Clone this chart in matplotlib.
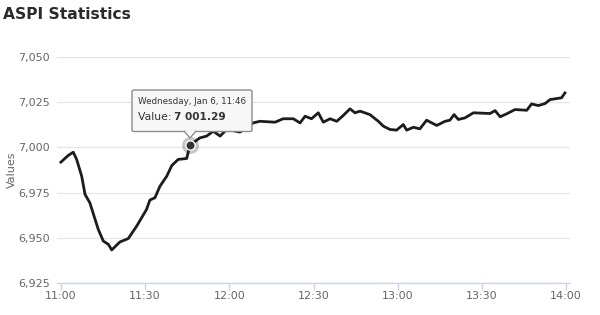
import matplotlib.pyplot as plt
from matplotlib.patches import FancyBboxPatch, Polygon

# minutes after 11:00 and ASPI value
minutes = [0, 2.6, 4.4, 5.6, 7.4, 8.6, 10.3, 13.3, 15.1, 16.9, 18.1, 21.0, 24.0, 27.0,
           30.5, 31.7, 33.5, 35.3, 37.7, 39.5, 41.8, 44.8, 46, 49.5, 51.9, 54.3, 56.7,
           59.1, 63.8, 68.5, 70.9, 76.3, 79.2, 82.8, 85.2, 87.0, 89.3, 91.7, 93.5, 95.9,
           98.3, 100.6, 103.0, 104.8, 106.6, 110.1, 113.1, 114.9, 117.2, 119.6, 122.0,
           123.2, 125.6, 127.9, 130.3, 133.9, 136.9, 138.6, 140.1, 141.6, 144.0, 147.0,
           152.9, 154.7, 156.5, 158.8, 161.8, 166.0, 167.7, 170.1, 172.5, 174.3, 178.4, 179.6]
values = [6991.9, 6995.6, 6997.4, 6993.4, 6984.1, 6974.0, 6969.4, 6954.7, 6948.2, 6946.4,
          6943.3, 6947.7, 6949.6, 6956.5, 6965.7, 6970.9, 6972.2, 6978.6, 6984.1, 6990.0,
          6993.4, 6993.9, 7001.29, 7005.3, 7006.3, 7009.0, 7006.3, 7010.0, 7008.5, 7013.6,
          7014.5, 7014.0, 7015.9, 7015.9, 7013.6, 7017.3, 7015.9, 7019.2, 7014.0, 7015.9,
          7014.5, 7017.7, 7021.4, 7019.2, 7020.1, 7018.2, 7014.5, 7011.8, 7010.0, 7009.6,
          7012.7, 7009.6, 7011.2, 7010.3, 7015.1, 7012.2, 7014.5, 7015.1, 7018.2, 7015.5,
          7016.4, 7019.2, 7018.8, 7020.4, 7017.0, 7018.6, 7021.0, 7020.6, 7024.1, 7023.2,
          7024.3, 7026.5, 7027.5, 7030.2]

x_ticks = [0, 30, 60, 90, 120, 150, 180]
x_labels = ["11:00", "11:30", "12:00", "12:30", "13:00", "13:30", "14:00"]
y_ticks = [6925, 6950, 6975, 7000, 7025, 7050]

hover_idx = 22
hover_text = "Wednesday, Jan 6, 11:46"

fig = plt.figure(figsize=(6, 3.15), dpi=100)
ax = fig.add_axes([0.095, 0.1016, 0.855, 0.717])

ax.plot(minutes, values, color="#1c1c1c", lw=2.0, solid_joinstyle="round", zorder=3)

ax.set_xlim(-1.4, 181.4)
ax.set_ylim(6925, 7050)
ax.set_yticks(y_ticks)
ax.set_yticklabels([f"{v:,}" for v in y_ticks])
ax.set_xticks(x_ticks)
ax.set_xticklabels(x_labels)

for s in ["top", "right", "left"]:
    ax.spines[s].set_visible(False)
ax.spines["bottom"].set_color("#ccd6eb")
ax.spines["bottom"].set_linewidth(1)
ax.grid(axis="y", color="#e6e6e6", lw=1)
ax.set_axisbelow(True)
ax.tick_params(axis="y", length=0, pad=5, labelsize=8, labelcolor="#666666")
ax.tick_params(axis="x", length=5, width=1, color="#ccd6eb", pad=1,
               labelsize=8, labelcolor="#666666")
ax.set_ylabel("Values", fontsize=8, color="#666666", labelpad=1)

fig.text(0.005, 0.955, "ASPI Statistics", fontsize=11.2, fontweight="bold",
         color="#2b2b2b", family="DejaVu Sans", va="center", ha="left")

# hover marker
hx, hy = minutes[hover_idx], values[hover_idx]
ax.scatter([hx], [hy], s=150, color="#1c1c1c", alpha=0.25, zorder=4, lw=0)
ax.scatter([hx], [hy], s=45, color="#333333", edgecolor="white", lw=1, zorder=5)

# tooltip in pixel coordinates
fw, fh = 600, 315
def fx(px):
    return px / fw
def fy(py):
    return 1 - py / fh

bx0, by0, bx1, by1 = 132, 90, 252, 131.5
box = FancyBboxPatch((fx(bx0), fy(by1)), fx(bx1 - bx0), (by1 - by0) / fh,
                     boxstyle="round,pad=0,rounding_size=0.004",
                     transform=fig.transFigure, facecolor="#f7f7f7",
                     edgecolor="#8c8c8c", lw=1, zorder=10)
fig.add_artist(box)
arrow = Polygon([(fx(184), fy(131)), (fx(190), fy(138)), (fx(196), fy(131))],
                closed=False, transform=fig.transFigure, facecolor="#f7f7f7",
                edgecolor="#8c8c8c", lw=1, zorder=11)
fig.add_artist(arrow)
fig.add_artist(Polygon([(fx(185), fy(130.5)), (fx(195), fy(130.5)), (fx(190), fy(136.5))],
                       transform=fig.transFigure, facecolor="#f7f7f7", lw=0, zorder=12))
fig.text(fx(138), fy(101), hover_text, fontsize=6.3, color="#333333",
         va="center", ha="left", zorder=13)
fig.text(fx(138), fy(117), "Value: ", fontsize=7.8, color="#333333",
         va="center", ha="left", zorder=13)
fig.text(fx(174), fy(117), f"{hy:,.2f}".replace(",", " "), fontsize=7.6,
         fontweight="bold", color="#333333", va="center", ha="left", zorder=13)

fig.savefig("out.png", dpi=100)
